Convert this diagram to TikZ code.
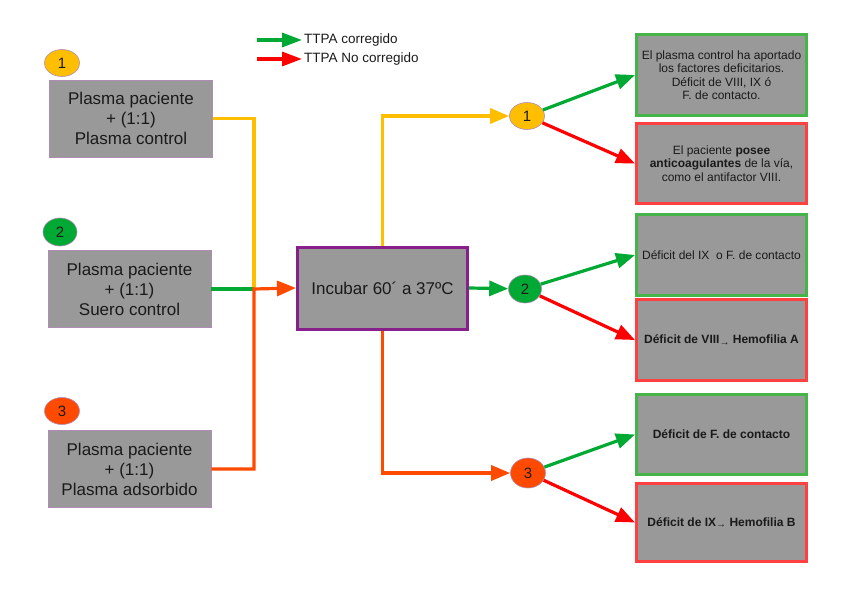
\documentclass[tikz,border=0pt]{standalone}
\usepackage{fontspec}
\setmainfont{Liberation Sans}
\usetikzlibrary{arrows.meta,shapes.geometric}
\definecolor{boxgray}{HTML}{999999}
\definecolor{yel}{HTML}{FFBF00}
\definecolor{org}{HTML}{FF4A00}
\definecolor{grn}{HTML}{00A933}
\definecolor{grnb}{HTML}{46B549}
\definecolor{redl}{HTML}{FF0000}
\definecolor{redb}{HTML}{FF4040}
\definecolor{purp}{HTML}{87208A}
\definecolor{lbord}{HTML}{B08CB4}
\definecolor{txt}{HTML}{1A1A1A}
\tikzset{
  lbox/.style={rectangle, fill=boxgray, draw=lbord, line width=0.8pt, minimum width=163pt, minimum height=77pt, align=center, inner sep=0pt, text=txt, font=\fontsize{17}{20}\selectfont},
  rbox/.style={rectangle, fill=boxgray, line width=3pt, minimum width=170pt, align=center, inner sep=0pt, text=txt, font=\fontsize{12}{13.5}\selectfont},
  gbox/.style={rbox, draw=grnb},
  xbox/.style={rbox, draw=redb},
  numc/.style={ellipse, draw=lbord, line width=0.6pt, minimum width=35pt, minimum height=27pt, inner sep=0pt, text=txt, font=\fontsize{15}{15}\selectfont},
  conn/.style={line width=3.2pt},
  tip/.style={-{Triangle[length=19pt,width=15pt]}},
}
\newcommand{\smallarr}{\raisebox{-1.5pt}{\fontsize{10}{10}\selectfont →}}
\begin{document}
\begin{tikzpicture}[x=1pt,y=-1pt]
\useasboundingbox (0,0) rectangle (848,599);

% legend
\coordinate (lg1) at (257,40);
\coordinate (lg2) at (302,40);
\coordinate (lr1) at (257,59);
\coordinate (lr2) at (302,59);
\node[anchor=west, inner sep=0pt, text=txt, font=\fontsize{13.5}{15}\selectfont] (lgt) at (304,40) {TTPA corregido};
\node[anchor=west, inner sep=0pt, text=txt, font=\fontsize{13.5}{15}\selectfont] (lrt) at (304,59) {TTPA No corregido};
\draw[conn, grn, -{Triangle[length=20pt,width=14pt]}] (lg1) -- (lg2);
\draw[conn, redl, -{Triangle[length=20pt,width=14pt]}] (lr1) -- (lr2);

% left boxes
\node[lbox] (b1) at (131,118.5) {Plasma paciente\\+ (1:1)\\Plasma control};
\node[lbox] (b2) at (129.5,289) {Plasma paciente\\+ (1:1)\\Suero control};
\node[lbox] (b3) at (129.5,469) {Plasma paciente\\+ (1:1)\\Plasma adsorbido};
\node[numc, fill=yel] (n1) at (62,63) {1};
\node[numc, fill=grn, minimum width=34pt, minimum height=28pt] (n2) at (60,232) {2};
\node[numc, fill=org] (n3) at (62,411) {3};

% incubate
\node[rectangle, fill=boxgray, draw=purp, line width=3pt, minimum width=170pt, minimum height=82pt, inner sep=0pt, text=txt, font=\fontsize{17}{20}\selectfont] (inc) at (382.5,288) {Incubar 60´ a 37ºC};

% junction
\coordinate (j) at (254,289);
\draw[conn, yel] (b1.east) -| (j);
\draw[conn, grn] (b2.east) -- (j);
\draw[conn, org, tip] (b3.east) -| (j) -- (inc.west);

% middle circles
\node[numc, fill=yel] (c1) at (527,116) {1};
\node[numc, fill=grn, minimum width=33pt, minimum height=28pt] (c2) at (525,289) {2};
\node[numc, fill=org, minimum height=30pt] (c3) at (528,473) {3};

\draw[conn, yel, tip] (inc.north) |- (c1);
\draw[conn, grn, tip] (inc.east) -- (c2);
\draw[conn, org, tip] (inc.south) |- (c3);

% right boxes
\node[gbox, minimum height=81pt] (r1) at (721.5,75) {El plasma control ha aportado\\los factores deficitarios.\\Déficit de VIII, IX ó\\F. de contacto.};
\node[xbox, minimum height=80pt] (r2) at (721.5,163.5) {El paciente \textbf{posee}\\\textbf{anticoagulantes} de la vía,\\como el antifactor VIII.};
\node[gbox, minimum height=81pt] (r3) at (721.5,255) {Déficit del IX\ \ o F. de contacto};
\node[xbox, minimum height=81pt] (r4) at (721.5,340) {\textbf{Déficit de VIII\smallarr\ Hemofilia A}};
\node[gbox, minimum height=80pt] (r5) at (721.5,434.5) {\textbf{Déficit de F. de contacto}};
\node[xbox, minimum height=78pt] (r6) at (721.5,522.5) {\textbf{Déficit de IX\smallarr\ Hemofilia B}};

\draw[conn, grn, tip] (c1) -- (r1.west);
\draw[conn, redl, tip] (c1) -- (r2.west);
\draw[conn, grn, tip] (c2) -- (r3.west);
\draw[conn, redl, tip] (c2) -- (r4.west);
\draw[conn, grn, tip] (c3) -- (r5.west);
\draw[conn, redl, tip] (c3) -- (r6.west);
\end{tikzpicture}
\end{document}
